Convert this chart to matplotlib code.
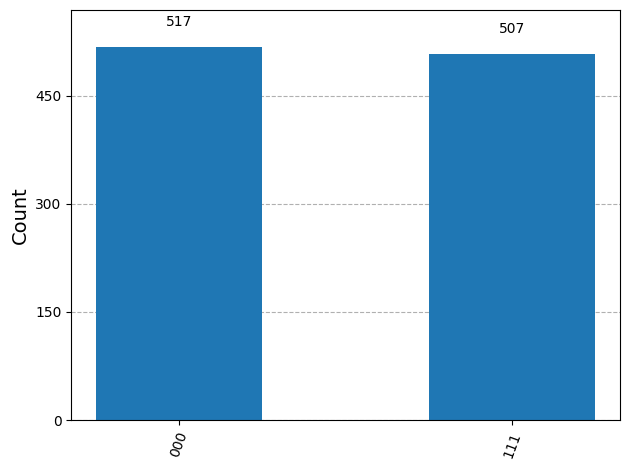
import numpy as np
import matplotlib
matplotlib.use('Agg')
import matplotlib.pyplot as plt

# Resultados da medicao
estados = ['000', '111']
contagens = [517, 507]
yticks = [0, 150, 300, 450]

fig, ax = plt.subplots(figsize=(6.3, 4.7), dpi=100)

x = np.arange(len(estados))
barras = ax.bar(x, contagens, width=0.5, color='#1f77b4')

# Valores acima das barras
for barra in barras:
    altura = barra.get_height()
    ax.text(barra.get_x() + barra.get_width() / 2, 1.05 * altura, '%d' % int(altura),
            ha='center', va='bottom', fontsize=10)

ax.set_xticks(x)
ax.set_xticklabels(estados, rotation=70, fontsize=10)
ax.set_yticks(yticks)
ax.set_ylim(0, max(contagens) * 1.1)
ax.set_ylabel('Count', fontsize=14)

ax.set_axisbelow(True)
ax.yaxis.grid(True, linestyle='--')

fig.subplots_adjust(left=0.113, right=0.984, top=0.979, bottom=0.106)
fig.savefig('out.png', dpi=100)
